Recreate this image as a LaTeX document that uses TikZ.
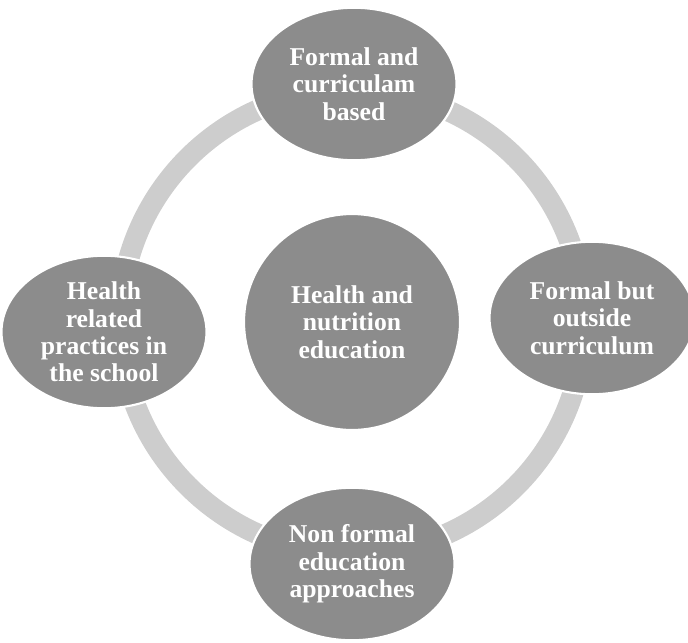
\documentclass[tikz,border=0pt]{standalone}
\usepackage{fontspec}
\setmainfont{Liberation Serif}
\usepackage{xcolor}
\usetikzlibrary{shapes.geometric}

\definecolor{ovalgray}{RGB}{140,140,140}
\definecolor{ringgray}{RGB}{205,205,205}

\begin{document}
\begin{tikzpicture}[x=0.02cm, y=-0.02cm,
  every node/.style={fill=ovalgray, draw=white, line width=1.2pt, text=white, inner sep=0pt, align=center, font=\bfseries\fontsize{14.6}{15.6}\selectfont},
  hub/.style={circle, minimum size=4.32cm},
  topic/.style={ellipse, minimum width=4.1cm, minimum height=3.05cm}]
  \useasboundingbox (0,0) rectangle (688,642);
  \clip (0,0) rectangle (688,642);
  \coordinate (mid) at (352,322);
  % the cycle ring runs behind all the ovals
  \draw[ringgray, line width=0.42cm] (mid) circle (232);
  \node[hub] (health) at (mid) {Health and\\nutrition\\education};
  \node[topic] (formal) at (354,84) {Formal and\\curriculam\\based};
  \node[topic] (outside) at (592,318) {Formal but\\outside\\curriculum};
  \node[topic] (nonformal) at (352,564) {Non formal\\education\\approaches};
  \node[topic] (practices) at (104,332) {Health\\related\\practices in\\the school};
\end{tikzpicture}
\end{document}
